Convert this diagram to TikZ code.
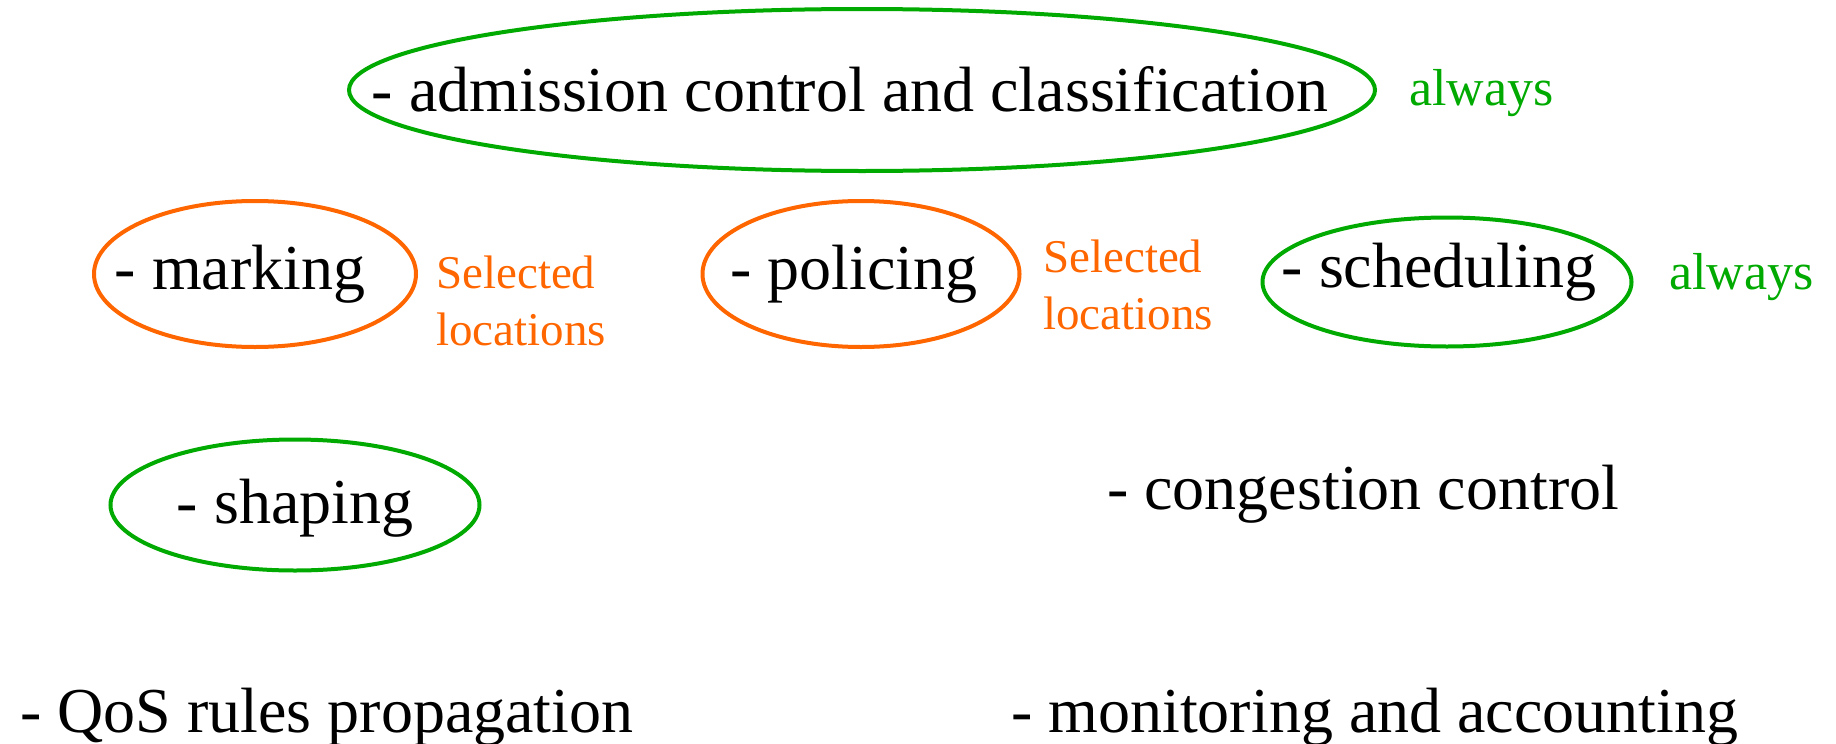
\documentclass[tikz,border=0pt]{standalone}
\usepackage{fontspec}
\setmainfont{Liberation Serif}
\usetikzlibrary{shapes.geometric}
\definecolor{qgreen}{RGB}{0,170,0}
\definecolor{qorange}{RGB}{255,102,0}
\begin{document}
\begin{tikzpicture}[x=1pt, y=-1pt, every node/.style={font=\fontsize{64}{70}\selectfont, inner sep=0pt},
			e/.style={draw, ellipse, line width=4pt},
			inside/.style={text=black, text height=44pt, text depth=14pt},
			note/.style={font=\fontsize{47}{57}\selectfont, align=left},
			always/.style={font=\fontsize{52}{60}\selectfont, text=qgreen, anchor=base west}]
			\useasboundingbox (0,0) rectangle (1836,744);
			\node[e, qgreen, minimum width=1026, minimum height=162,
				label={[inside, xshift=-12pt, yshift=-6pt]center:- admission control and classification}] (adm) at (862,90) {};
			\node[always] (admnote) at (1409,105) {always};
			\node[e, qorange, minimum width=322, minimum height=146,
				label={[inside, xshift=-15pt]center:- marking}] (mark) at (255,274) {};
			\node[note, text=qorange, anchor=west] (marknote) at (436,301) {Selected\\locations};
			\node[e, qorange, minimum width=317, minimum height=146,
				label={[inside, xshift=-7pt]center:- policing}] (pol) at (861,274) {};
			\node[note, text=qorange, anchor=west] (polnote) at (1043,285) {Selected\\locations};
			\node[e, qgreen, minimum width=369, minimum height=129,
				label={[inside, xshift=-8pt, yshift=10pt]center:- scheduling}] (sched) at (1447,282) {};
			\node[always] (schednote) at (1669,289) {always};
			\node[e, qgreen, minimum width=369, minimum height=131,
				label={[inside, yshift=-3pt]center:- shaping}] (shape) at (295,505) {};
			\node[anchor=base west] (cong) at (1107,509) {- congestion control};
			\node[anchor=base west] (qos) at (20,732) {- QoS rules propagation};
			\node[anchor=base west] (mon) at (1011,732) {- monitoring and accounting};
		\end{tikzpicture}
\end{document}
